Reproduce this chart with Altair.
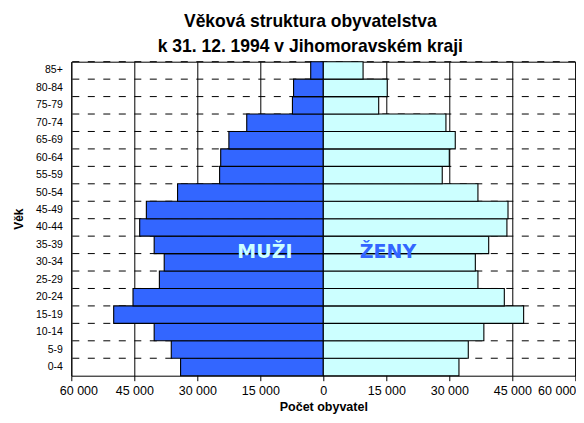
import altair as alt
import pandas as pd

# --- data -------------------------------------------------------------
ages = ["0-4", "5-9", "10-14", "15-19", "20-24", "25-29", "30-34", "35-39",
        "40-44", "45-49", "50-54", "55-59", "60-64", "65-69", "70-74",
        "75-79", "80-84", "85+"]
muzi = [33980, 36200, 40270, 49910, 45310, 39030, 37880, 40270, 43720,
        42130, 34700, 24690, 24430, 22480, 18230, 7350, 7080, 3000]
zeny = [32300, 34520, 38230, 47700, 43100, 36820, 36200, 39380, 43720,
        43980, 36820, 28320, 30000, 31420, 29200, 13190, 15220, 9470]
x_ticks = [-60000, -45000, -30000, -15000, 0, 15000, 30000, 45000, 60000]
series = ["Muži", "Ženy"]
series_colors = ["#3366FF", "#CCFFFF"]
overlay_text = ["MUŽI", "ŽENY"]
overlay_x = [-13900, 15400]
overlay_age = ["30-34", "30-34"]
overlay_colors = ["#CCFFFF", "#3366FF"]

rows = []
for a, m, z in zip(ages, muzi, zeny):
    rows.append({"age": a, "sex": series[0], "value": -m})
    rows.append({"age": a, "sex": series[1], "value": z})
df = pd.DataFrame(rows)
df_ages = pd.DataFrame({"age": ages})
df_lab = pd.DataFrame({"label": overlay_text, "x": overlay_x, "age": overlay_age})

order = ages[::-1]
FONT = "Liberation Sans"

xscale = alt.Scale(domain=[-60000, 60000], nice=False, zero=False)
yscale = alt.Scale(paddingInner=0, paddingOuter=0)

x_axis = alt.Axis(
    values=x_ticks,
    labelExpr="replace(format(abs(datum.value), ','), ',', ' ')",
    title="Počet obyvatel",
    grid=True, gridColor="black", gridWidth=1, gridOpacity=1,
    domain=False, ticks=True, tickSize=5, tickColor="black", tickWidth=1,
    labelFontSize=12.5, labelColor="black", labelPadding=4,
    labelFlush=False,
    labelAlign={"condition": [
        {"test": "datum.value <= -60000", "value": "left"},
        {"test": "datum.value >= 60000", "value": "right"}],
        "value": "center"},
    labelOffset={"condition": [
        {"test": "datum.value <= -60000", "value": -12},
        {"test": "datum.value >= 60000", "value": 0.5}],
        "value": 0},
    titleFontSize=12.5, titleFontWeight="bold", titleColor="black",
    titleX=252, titleY=35, titleBaseline="alphabetic", titleAlign="center",
)
y_axis = alt.Axis(
    title="Věk", grid=False, domain=False, ticks=False,
    labelFontSize=10.5, labelColor="black", labelPadding=9,
    titleFontSize=12, titleFontWeight="bold", titleColor="black",
    titleAngle=270, titleX=-53, titleY=157, titleBaseline="middle",
    titleAlign="center",
)

rules = alt.Chart(df_ages).mark_rule(
    color="black", strokeWidth=1, strokeDash=[7, 8.5]
).encode(
    y=alt.Y("age:N", sort=order, scale=yscale, bandPosition=0, axis=y_axis)
)

bars = alt.Chart(df).mark_bar(stroke="black", strokeWidth=1.1).encode(
    x=alt.X("value:Q", scale=xscale, axis=x_axis),
    y=alt.Y("age:N", sort=order, scale=yscale, axis=y_axis),
    fill=alt.Fill("sex:N", scale=alt.Scale(domain=series, range=series_colors),
                  legend=None),
)

texts = []
for i, lab in enumerate(overlay_text):
    t = alt.Chart(df_lab).transform_filter(
        alt.datum.label == lab
    ).mark_text(
        font="DejaVu Sans", fontSize=19, fontWeight="bold",
        color=overlay_colors[i], align="center", baseline="alphabetic", dy=4
    ).encode(
        x=alt.X("x:Q", scale=xscale, axis=x_axis),
        y=alt.Y("age:N", sort=order, scale=yscale, bandPosition=0, axis=y_axis),
        text="label:N",
    )
    texts.append(t)

chart = alt.layer(rules, bars, *texts).properties(
    width=504,
    height=314,
    title=alt.TitleParams(
        text=["Věková struktura obyvatelstva",
              "k 31. 12. 1994 v Jihomoravském kraji"],
        font=FONT, fontSize=17.5, fontWeight="bold", color="black",
        lineHeight=25, anchor="middle", dx=-13, offset=6,
    ),
    autosize=alt.AutoSizeParams(type="none"),
    padding={"left": 63.3, "top": 53.7, "right": 0.7, "bottom": 39},
).configure(
    font=FONT,
    background="white",
).configure_view(
    stroke="black", strokeWidth=1,
)

chart.save("out.html", embed_options={"renderer": "svg", "actions": False})
